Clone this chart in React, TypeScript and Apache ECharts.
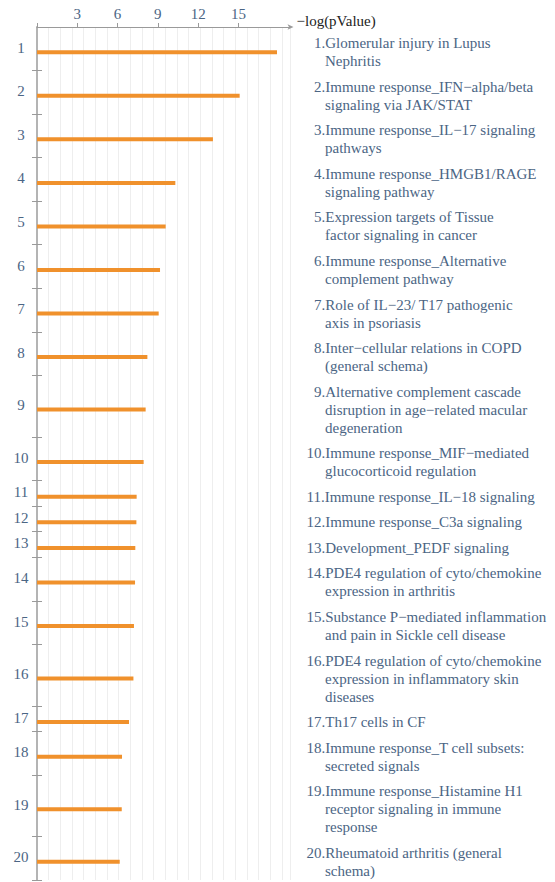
import React, { useEffect, useRef } from "react";
import * as echarts from "echarts";

const pathways: string[] = [
  "Glomerular injury in Lupus\nNephritis",
  "Immune response_IFN\u2212alpha/beta\nsignaling via JAK/STAT",
  "Immune response_IL\u221217 signaling\npathways",
  "Immune response_HMGB1/RAGE\nsignaling pathway",
  "Expression targets of Tissue\nfactor signaling in cancer",
  "Immune response_Alternative\ncomplement pathway",
  "Role of IL\u221223/ T17 pathogenic\naxis in psoriasis",
  "Inter\u2212cellular relations in COPD\n(general schema)",
  "Alternative complement cascade\ndisruption in age\u2212related macular\ndegeneration",
  "Immune response_MIF\u2212mediated\nglucocorticoid regulation",
  "Immune response_IL\u221218 signaling",
  "Immune response_C3a signaling",
  "Development_PEDF signaling",
  "PDE4 regulation of cyto/chemokine\nexpression in arthritis",
  "Substance P\u2212mediated inflammation\nand pain in Sickle cell disease",
  "PDE4 regulation of cyto/chemokine\nexpression in inflammatory skin\ndiseases",
  "Th17 cells in CF",
  "Immune response_T cell subsets:\nsecreted signals",
  "Immune response_Histamine H1\nreceptor signaling in immune\nresponse",
  "Rheumatoid arthritis (general\nschema)",
];

const negLogP: number[] = [
  17.87, 15.09, 13.1, 10.3, 9.58, 9.16, 9.06, 8.22, 8.09, 7.94,
  7.42, 7.4, 7.32, 7.3, 7.22, 7.18, 6.85, 6.33, 6.31, 6.16,
];

const xTickValues: number[] = [0, 3, 6, 9, 12, 15];
const xTickLabels: number[] = [3, 6, 9, 12, 15];

const LINE_H = 18;
const ROW_PAD = 7.7;
const LABEL_SHIFT = -1;
const BAR_SHIFT = 3.5;

const TEXT_COLOR = "#4b6584";
const FONT = "Liberation Serif";

export default function App() {
  const ref = useRef<HTMLDivElement>(null);

  useEffect(() => {
    if (!ref.current) return;
    const chart = echarts.init(ref.current, null, { renderer: "svg" });

    const lineCounts = pathways.map((p) => p.split("\n").length);
    const boundaries: number[] = [];
    const centers: number[] = [];
    let acc = 0;
    lineCounts.forEach((n) => {
      const h = ROW_PAD + n * LINE_H;
      centers.push(acc + h / 2);
      acc += h;
      boundaries.push(acc);
    });
    const total = acc;

    const labelPos = centers.map((c) => c + LABEL_SHIFT);
    const barPos = centers.map((c) => c + BAR_SHIFT);

    const nearestIndex = (arr: number[], v: number) => {
      let best = 0;
      let bd = Infinity;
      arr.forEach((a, i) => {
        const d = Math.abs(a - v);
        if (d < bd) {
          bd = d;
          best = i;
        }
      });
      return best;
    };

    const gridLeft = 37;
    const gridRight = 264.5;
    const plotWidth = 555 - gridLeft - gridRight;
    const xMax = plotWidth / 13.43;
    const gridMax = plotWidth / 11.67;

    const richBase = {
      color: TEXT_COLOR,
      fontSize: 15,
      fontFamily: FONT,
      lineHeight: LINE_H,
      align: "left",
    };

    const option: any = {
      animation: false,
      textStyle: { fontFamily: FONT },
      grid: { left: gridLeft, right: gridRight, top: 27, height: 853 },
      xAxis: [
        {
          type: "value",
          position: "top",
          min: 0,
          max: xMax,
          name: "\u2212log(pValue)",
          nameLocation: "end",
          nameGap: 6,
          nameTextStyle: {
            color: "#222222",
            fontSize: 15,
            fontFamily: FONT,
            align: "left",
            verticalAlign: "bottom",
            padding: [0, 0, -1, 0],
          },
          axisLine: {
            show: true,
            symbol: ["none", "arrow"],
            symbolSize: [4, 6],
            symbolOffset: [0, 3],
            lineStyle: { color: "#9a9a9a", width: 1 },
          },
          axisTick: {
            show: true,
            length: 4,
            customValues: xTickValues,
            lineStyle: { color: "#9a9a9a" },
          },
          axisLabel: {
            customValues: xTickLabels,
            color: TEXT_COLOR,
            fontSize: 15,
            fontFamily: FONT,
            margin: 6,
          },
          splitLine: { show: false },
        },
        {
          type: "value",
          position: "bottom",
          min: 0,
          max: gridMax,
          interval: 1,
          axisLine: { show: false },
          axisTick: { show: false },
          axisLabel: { show: false },
          splitLine: { show: true, lineStyle: { color: "#eeeeee", width: 1 } },
        },
      ],
      yAxis: [
        {
          type: "value",
          position: "left",
          inverse: true,
          min: 0,
          max: total,
          axisLine: { show: true, lineStyle: { color: "#9a9a9a", width: 1 } },
          axisTick: {
            show: true,
            length: 5,
            customValues: boundaries,
            lineStyle: { color: "#9a9a9a" },
          },
          axisLabel: {
            customValues: labelPos,
            color: TEXT_COLOR,
            fontSize: 15,
            fontFamily: FONT,
            align: "center",
            margin: 16,
            formatter: (v: number) => String(nearestIndex(labelPos, v) + 1),
          },
          splitLine: { show: false },
        },
        {
          type: "value",
          position: "right",
          inverse: true,
          min: 0,
          max: total,
          axisLine: { show: true, lineStyle: { color: "#b4b4b4", width: 2 } },
          axisTick: {
            show: true,
            length: 5,
            customValues: boundaries,
            lineStyle: { color: "#9a9a9a" },
          },
          axisLabel: {
            customValues: barPos,
            margin: 16,
            align: "left",
            fontFamily: FONT,
            fontSize: 15,
            color: TEXT_COLOR,
            formatter: (v: number) => {
              const i = nearestIndex(barPos, v);
              const lines = pathways[i].split("\n");
              return lines
                .map((ln, k) => {
                  if (k === 0) {
                    const pre = i + 1 < 10 ? "{s| }" : "";
                    return `${pre}{t|${i + 1}.${ln}}`;
                  }
                  return `{p| }{t|${ln}}`;
                })
                .join("\n");
            },
            rich: {
              t: { ...richBase },
              s: { ...richBase, width: 7.5 },
              p: { ...richBase, width: 18.5 },
            },
          },
          splitLine: { show: false },
        },
      ],
      series: [
        {
          type: "custom",
          xAxisIndex: 0,
          yAxisIndex: 0,
          encode: { x: 0, y: 1 },
          data: negLogP.map((v, i) => [v, barPos[i]]),
          renderItem: (params: any, api: any) => {
            const start = api.coord([0, api.value(1)]);
            const end = api.coord([api.value(0), api.value(1)]);
            return {
              type: "rect",
              shape: {
                x: start[0],
                y: start[1] - 2,
                width: end[0] - start[0],
                height: 4,
              },
              style: { fill: "#f0912c" },
            };
          },
        },
      ],
    };

    chart.setOption(option);
    return () => chart.dispose();
  }, []);

  return (
    <div
      ref={ref}
      style={{
        position: "fixed",
        left: 0,
        top: 0,
        width: 555,
        height: 882,
        background: "#ffffff",
      }}
    />
  );
}
